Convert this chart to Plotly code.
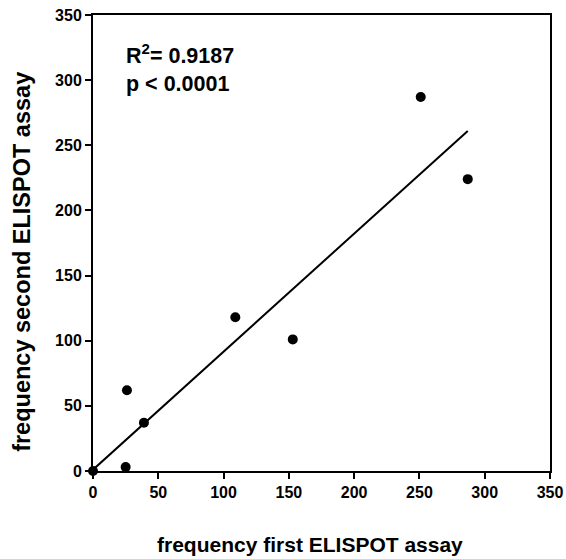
import plotly.graph_objects as go

# Data
first_assay = [0, 25, 26, 39, 109, 153, 251, 287]
second_assay = [0, 3, 62, 37, 118, 101, 287, 224]
fit_x = [0, 287]
fit_y = [1, 261]
tick_vals = [0, 50, 100, 150, 200, 250, 300, 350]
tick_labels = ["0", "50", "100", "150", "200", "250", "300", "350"]

font_family = "Liberation Sans, Arial, sans-serif"

fig = go.Figure()
fig.add_trace(go.Scatter(x=fit_x, y=fit_y, mode="lines",
                         line=dict(color="black", width=2),
                         cliponaxis=False, showlegend=False))
fig.add_trace(go.Scatter(x=first_assay, y=second_assay, mode="markers",
                         marker=dict(color="black", size=10),
                         cliponaxis=False, showlegend=False))

axis_common = dict(range=[0, 350], tickvals=tick_vals,
                   ticktext=["<b>" + t + "</b>" for t in tick_labels],
                   showgrid=False, zeroline=False,
                   showline=True, linecolor="black", linewidth=2, mirror=True,
                   ticks="outside", ticklen=6, tickwidth=2, tickcolor="black",
                   automargin=False,
                   tickfont=dict(family=font_family, size=16, color="black"))

fig.update_layout(
    width=566, height=559,
    margin=dict(l=93, r=16, t=15, b=88),
    plot_bgcolor="white", paper_bgcolor="white",
    xaxis=axis_common,
    yaxis=axis_common,
    annotations=[
        dict(x=24, y=332, xref="x", yref="y", xanchor="left", yanchor="top",
             text="<b>R<sup>2</sup>= 0.9187<br>p < 0.0001</b>", showarrow=False, align="left",
             font=dict(family=font_family, size=21.5, color="black")),
        dict(x=0.475, y=-0.162, xref="paper", yref="paper", xanchor="center", yanchor="middle",
             text="<b>frequency first ELISPOT assay</b>", showarrow=False,
             font=dict(family=font_family, size=21, color="black")),
        dict(x=-0.155, y=0.459, xref="paper", yref="paper", xanchor="center", yanchor="middle",
             text="<b>frequency second ELISPOT assay</b>", showarrow=False, textangle=-90,
             font=dict(family=font_family, size=23.5, color="black")),
    ],
)

fig.write_html("out.html", config={"displayModeBar": False},
               post_script="document.body.style.margin='0';")
